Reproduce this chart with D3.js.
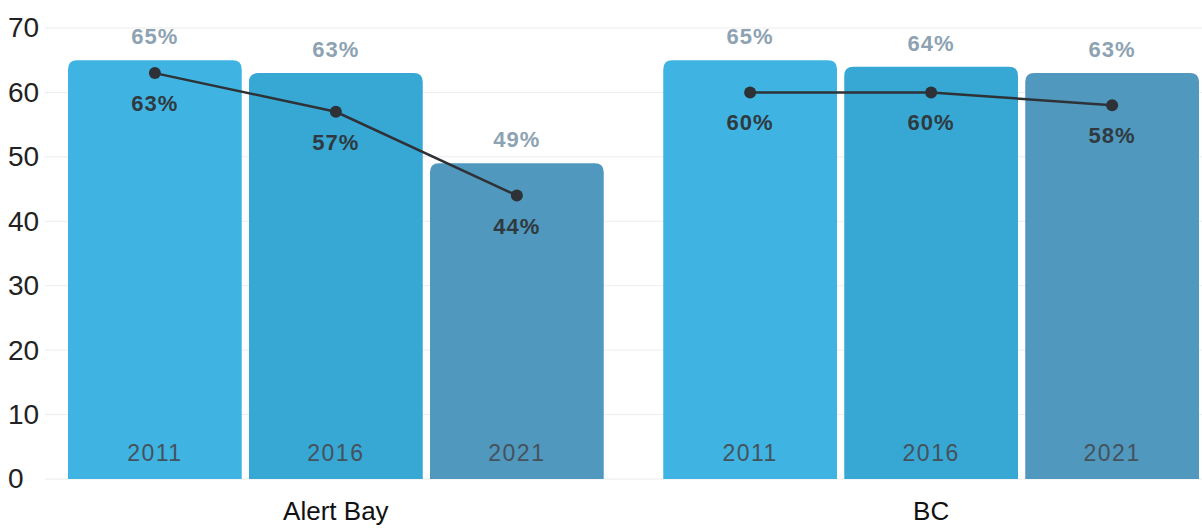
<!DOCTYPE html>
<html><head><meta charset="utf-8">
<script src="https://cdn.jsdelivr.net/npm/d3@7"></script>
<style>body{margin:0;background:#fff}svg{display:block}</style>
</head><body>
<svg id="c" width="1202" height="529"></svg>
<script>
const groups = ["Alert Bay", "BC"];
const years = ["2011", "2016", "2021"];
const barValues = {"Alert Bay": [65, 63, 49], "BC": [65, 64, 63]};
const lineValues = {"Alert Bay": [63, 57, 44], "BC": [60, 60, 58]};
const yTicks = [0, 10, 20, 30, 40, 50, 60, 70];
const barColors = ["#3fb4e2", "#37a7d4", "#5098be"];

const svg = d3.select("#c");
const W = 1202;
const y = d3.scaleLinear().domain([0, 70]).range([479, 28]);
const x0 = d3.scaleBand().domain(groups).range([68, 1199]).paddingInner(0.1).paddingOuter(0);
const x1 = d3.scaleBand().domain(years).range([0, x0.bandwidth()]).paddingInner(0.04).paddingOuter(0);

// gridlines
svg.append("g").selectAll("line").data(yTicks).join("line")
  .attr("x1", 45).attr("x2", W).attr("y1", d => y(d)).attr("y2", d => y(d))
  .attr("stroke", "#ececec").attr("stroke-width", 1);

// y axis labels
const ax = svg.append("g").attr("transform", "translate(8,0)")
  .call(d3.axisLeft(y).tickValues(yTicks).tickSize(0).tickPadding(0));
ax.select(".domain").remove();
ax.selectAll("text").attr("text-anchor", "start").attr("x", 0)
  .style("font-family", "Liberation Sans, Arial, sans-serif").style("font-size", "28px").attr("fill", "#222");

const r = 9;
function roundTop(x, yt, w, yb) {
  return `M${x},${yb}V${yt + r}Q${x},${yt} ${x + r},${yt}H${x + w - r}Q${x + w},${yt} ${x + w},${yt + r}V${yb}Z`;
}

groups.forEach(g => {
  const gx = x0(g);
  const G = svg.append("g").attr("transform", `translate(${gx},0)`);
  const rows = years.map((yr, i) => ({yr, i, v: barValues[g][i], l: lineValues[g][i]}));
  G.selectAll("path.bar").data(rows).join("path").attr("class", "bar")
    .attr("d", d => roundTop(x1(d.yr), y(d.v), x1.bandwidth(), y(0)))
    .attr("fill", d => barColors[d.i]);
  // value labels above
  G.selectAll("text.val").data(rows).join("text").attr("class", "val")
    .attr("x", d => x1(d.yr) + x1.bandwidth() / 2).attr("y", d => y(d.v) - 16)
    .attr("text-anchor", "middle").attr("fill", "#8da2b2")
    .style("font-family", "Liberation Sans, Arial, sans-serif").style("font-size", "22px")
    .style("font-weight", "bold").style("letter-spacing", "1px")
    .text(d => d.v + "%");
  // year labels
  G.selectAll("text.yr").data(rows).join("text").attr("class", "yr")
    .attr("x", d => x1(d.yr) + x1.bandwidth() / 2).attr("y", 461)
    .attr("text-anchor", "middle").attr("fill", "#44525c")
    .style("font-family", "Liberation Sans, Arial, sans-serif").style("font-size", "23px")
    .style("letter-spacing", "1.5px")
    .text(d => d.yr);
  // line
  const line = d3.line().x(d => x1(d.yr) + x1.bandwidth() / 2).y(d => y(d.l));
  G.append("path").datum(rows).attr("d", line).attr("fill", "none")
    .attr("stroke", "#2e3236").attr("stroke-width", 2.5);
  G.selectAll("circle").data(rows).join("circle")
    .attr("cx", d => x1(d.yr) + x1.bandwidth() / 2).attr("cy", d => y(d.l)).attr("r", 6)
    .attr("fill", "#2e3236");
  G.selectAll("text.lv").data(rows).join("text").attr("class", "lv")
    .attr("x", d => x1(d.yr) + x1.bandwidth() / 2).attr("y", d => y(d.l) + 38)
    .attr("text-anchor", "middle").attr("fill", "#2f3a40")
    .style("font-family", "Liberation Sans, Arial, sans-serif").style("font-size", "22px")
    .style("font-weight", "bold").style("letter-spacing", "1px")
    .text(d => d.l + "%");
  // group label
  svg.append("text").attr("x", gx + x0.bandwidth() / 2).attr("y", 520)
    .attr("text-anchor", "middle").attr("fill", "#111")
    .style("font-family", "Liberation Sans, Arial, sans-serif").style("font-size", "26px")
    .text(g);
});
</script>
</body></html>
